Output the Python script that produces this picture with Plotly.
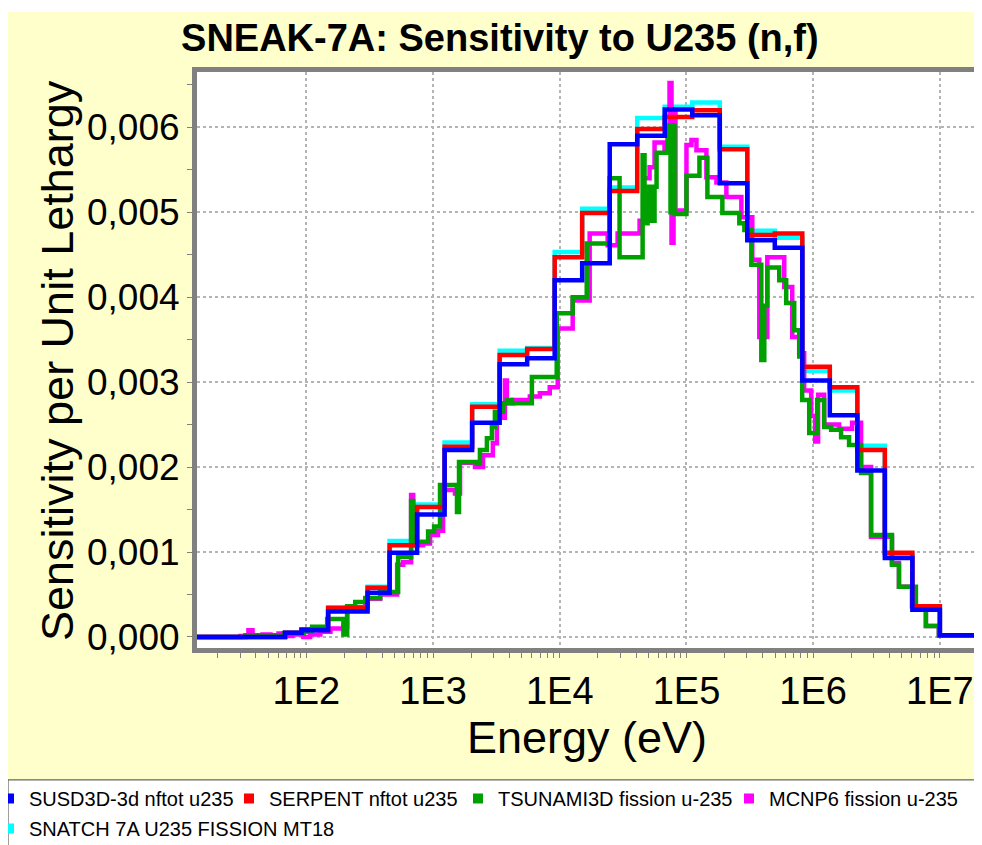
import plotly.graph_objects as go

FONT = "Liberation Sans, Arial, sans-serif"

# ECCO 33-group boundaries (eV) covering the plotted range
group_edges = [13.71, 22.6, 40.17, 67.9, 91.66, 148.6, 304.3, 454.0, 748.5, 1234.0,
               2035.0, 3355.0, 5531.0, 9119.0, 15030.0, 24790.0, 40870.0, 67380.0,
               111100.0, 183200.0, 302000.0, 497900.0, 820900.0, 1.353e6, 2.231e6,
               3.679e6, 6.065e6, 1.0e7, 1.964e7]

susd3d = [0, 0, 0, 0.00005, 0.00008, 0.00030, 0.00052, 0.00099, 0.00144, 0.00220,
          0.00252, 0.00321, 0.00328, 0.00420, 0.00440, 0.00580, 0.00590, 0.00621,
          0.00614, 0.00534, 0.00467, 0.00458, 0.00302, 0.00261, 0.00196, 0.00093,
          0.00032, 0.00002]
serpent = [0, 0, 0, 0.00005, 0.00009, 0.00034, 0.00058, 0.00108, 0.00153, 0.00224,
           0.00271, 0.00332, 0.00339, 0.00447, 0.00499, 0.00525, 0.00598, 0.00612,
           0.00620, 0.00574, 0.00473, 0.00475, 0.00318, 0.00294, 0.00220, 0.00099,
           0.00036, 0.00002]
snatch = [0, 0, 0, 0.00005, 0.00009, 0.00035, 0.00059, 0.00113, 0.00156, 0.00229,
          0.00274, 0.00337, 0.00340, 0.00453, 0.00504, 0.00529, 0.00611, 0.00624,
          0.00629, 0.00577, 0.00478, 0.00470, 0.00313, 0.00290, 0.00225, 0.00097,
          0.00035, 0.00002]

# fine-group series: lower energy of each step (eV) and value
tsunami_e = [13.71, 33.1, 65.9, 94.7, 111, 146, 196, 210, 243, 292, 383, 530, 671, 697,
             914, 1019, 1135, 1545, 1603, 2219, 2344, 2661, 2915, 3077, 3558, 3826,
             4188, 6026, 9462, 12650, 16330, 24770, 29650, 45080, 46670, 49320, 52990,
             55980, 58070, 70850, 74850, 77620, 80510, 100000, 126600, 146300, 192000,
             261400, 286400, 325100, 389700, 411300, 434400, 539800, 612400, 708500,
             776100, 818900, 930700, 1.075e6, 1.221e6, 1.386e6, 1.661e6, 1.92e6,
             2.388e6, 2.863e6, 4.188e6, 4.755e6, 6.47e6, 7.757e6, 9.82e6]
tsunami = [0, 0.00002, 0.00004, 0.00006, 0.00012, 0.00021, 0.00003, 0.00036, 0.00041,
           0.00046, 0.00053, 0.00094, 0.00160, 0.00112, 0.00124, 0.00130, 0.00179,
           0.00147, 0.00206, 0.00204, 0.00220, 0.00234, 0.00247, 0.00265, 0.00275,
           0.00279, 0.00275, 0.00306, 0.00381, 0.00400, 0.00463, 0.00540, 0.00447,
           0.00567, 0.00487, 0.00530, 0.00490, 0.00530, 0.00570, 0.00602, 0.00500,
           0.00602, 0.00498, 0.00543, 0.00564, 0.00518, 0.00499, 0.00487, 0.00479,
           0.00438, 0.00326, 0.00390, 0.00435, 0.00420, 0.00393, 0.00361, 0.00330,
           0.00279, 0.00240, 0.00279, 0.00247, 0.00244, 0.00235, 0.00226, 0.00193,
           0.00120, 0.00085, 0.00059, 0.00036, 0.00013, 0.00002]

mcnp_e = [13.71, 30.2, 34.9, 37.6, 45.1, 52.1, 60.3, 68.4, 77.6, 94.7, 107, 129, 155,
          196, 210, 292, 383, 521, 581, 671, 697, 834, 947, 1094, 1199, 1489, 1633,
          2143, 2477, 2964, 3190, 3558, 3690, 3826, 4266, 5808, 6966, 8337, 9638,
          12650, 17220, 23880, 28620, 42660, 45840, 51160, 55980, 67140, 73520, 76230,
          79050, 81900, 100000, 109500, 119900, 143700, 172300, 206500, 271200,
          330800, 375600, 434400, 591300, 683600, 776100, 849100, 964600, 1.037e6,
          1.094e6, 1.221e6, 1.602e6, 2.028e6, 2.388e6, 2.863e6, 4.188e6, 4.755e6,
          6.022e6, 7.757e6, 9.82e6]
mcnp = [0, 0.00001, 0.00008, 0.00001, 0.00003, 0.00002, 0.00004, 0.00001, 0.00003, 0,
        0.00003, 0.00006, 0.00010, 0.00012, 0.00035, 0.00045, 0.00050, 0.00085,
        0.00088, 0.00167, 0.00108, 0.00110, 0.00120, 0.00125, 0.00173, 0.00169,
        0.00205, 0.00200, 0.00214, 0.00228, 0.00263, 0.00258, 0.00302, 0.00275,
        0.00279, 0.00283, 0.00287, 0.00294, 0.00363, 0.00396, 0.00475, 0.00461,
        0.00475, 0.00490, 0.00540, 0.00553, 0.00582, 0.00570, 0.00652, 0.00464,
        0.00620, 0.00502, 0.00579, 0.00585, 0.00573, 0.00541, 0.00535, 0.00518,
        0.00494, 0.00444, 0.00353, 0.00447, 0.00412, 0.00353, 0.00334, 0.00290,
        0.00260, 0.00230, 0.00285, 0.00250, 0.00245, 0.00252, 0.00200, 0.00118,
        0.00087, 0.00059, 0.00036, 0.00013, 0.00002]

x_ticks = [1e2, 1e3, 1e4, 1e5, 1e6, 1e7]
x_ticktext = ["1E2", "1E3", "1E4", "1E5", "1E6", "1E7"]

series = [
    # name, color, edges, values  (listed in drawing order, bottom first)
    ("SNATCH 7A U235 FISSION MT18", "#00FFFF", group_edges[:-1], snatch),
    ("MCNP6 fission u-235", "#FF00FF", mcnp_e, mcnp),
    ("TSUNAMI3D fission u-235", "#00A000", tsunami_e, tsunami),
    ("SERPENT nftot u235", "#FF0000", group_edges[:-1], serpent),
    ("SUSD3D-3d nftot u235", "#0000FF", group_edges[:-1], susd3d),
]
# legend rows as in the original: (name, legend, entry width)
legend_entries = [
    ("SUSD3D-3d nftot u235", "legend", 195),
    ("SERPENT nftot u235", "legend", 184),
    ("TSUNAMI3D fission u-235", "legend", 226),
    ("MCNP6 fission u-235", "legend", 0),
    ("SNATCH 7A U235 FISSION MT18", "legend2", 0),
]

fig = go.Figure()
colors = {}
for name, color, e, v in series:
    colors[name] = color
    fig.add_trace(go.Scatter(
        x=list(e) + [group_edges[-1]], y=list(v) + [v[-1]],
        mode="lines", line=dict(color=color, width=4.5, shape="hv"),
        name=name, showlegend=False,
    ))

# square legend swatches like the original tool
for name, leg, w in legend_entries:
    fig.add_trace(go.Scatter(
        x=[None], y=[None], mode="markers", name=name, legend=leg,
        legendwidth=w if w else None,
        marker=dict(symbol="square", size=10, color=colors[name]),
    ))

minor_x = [m * 10 ** d for d in range(1, 8) for m in range(2, 10)]

legend_style = dict(orientation="h", xanchor="left", yanchor="top", x=-0.2667,
                    bgcolor="rgba(0,0,0,0)", font=dict(size=20, family=FONT),
                    itemwidth=30, borderwidth=0)

# page body adds an 8px margin, so the figure is 8px smaller than the window
fig.update_layout(
    width=974, height=837,
    margin=dict(l=189, r=5, t=64, b=197, autoexpand=False),
    paper_bgcolor="#FFFFCC", plot_bgcolor="white",
    separators=",.",
    font=dict(family=FONT, color="black"),
    title=dict(text="<b>SNEAK-7A: Sensitivity to U235 (n,f)</b>", x=0.505, xanchor="center",
               y=0.964, yanchor="middle", font=dict(size=38, family=FONT)),
    xaxis=dict(
        type="log", range=[1.137, 7.293],
        tickmode="array", tickvals=x_ticks, ticktext=x_ticktext,
        tickfont=dict(size=38), ticks="outside", ticklen=5, tickcolor="#808080",
        showgrid=True, gridcolor="#b4b4b4", griddash="dot", gridwidth=2,
        showline=True, linecolor="#808080", linewidth=5, mirror=True,
        minor=dict(tickvals=minor_x, ticks="outside", ticklen=5, tickcolor="#808080",
                   showgrid=False),
        title=dict(text="Energy (eV)", font=dict(size=45), standoff=6),
        zeroline=False,
    ),
    yaxis=dict(
        range=[-0.00013, 0.00665], dtick=0.001, tickformat=".3f",
        tickfont=dict(size=37), ticks="outside", ticklen=5, tickcolor="#808080",
        showgrid=True, gridcolor="#b4b4b4", griddash="dot", gridwidth=2,
        showline=True, linecolor="#808080", linewidth=5, mirror=True,
        minor=dict(dtick=0.0005, ticks="outside", ticklen=5, tickcolor="#808080",
                   showgrid=False),
        zeroline=False,
    ),
    annotations=[
        dict(text="Sensitivity per Unit Lethargy", textangle=-90, xref="paper",
             yref="paper", x=-0.1795, y=0.5, xanchor="center", yanchor="middle",
             showarrow=False, font=dict(size=45, family=FONT)),
    ],
    legend=dict(legend_style, y=-0.2274),
    legend2=dict(legend_style, y=-0.2795),
    shapes=[
        # thin white strip above the yellow panel
        dict(type="rect", xref="paper", yref="paper", x0=-0.25, x1=1.02,
             y0=1.104, y1=1.12, fillcolor="white", line=dict(width=0), layer="below"),
        # legend box
        dict(type="rect", xref="paper", yref="paper", x0=-0.2423, x1=1.02,
             y0=-0.36, y1=-0.229, fillcolor="white",
             line=dict(color="#404040", width=1), layer="below"),
    ],
)

fig.write_html("out.html")
